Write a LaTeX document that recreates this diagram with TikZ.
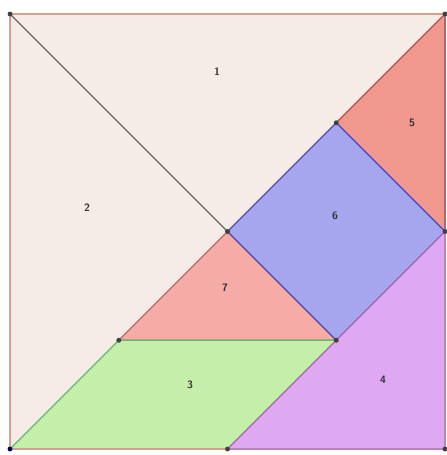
\documentclass[tikz,border=0pt]{standalone}
\definecolor{paper}{RGB}{246,236,231}
\definecolor{rim}{RGB}{214,160,142}
\definecolor{coral}{RGB}{241,152,142}
\definecolor{rose}{RGB}{245,172,166}
\definecolor{lilac}{RGB}{166,166,238}
\definecolor{lime}{RGB}{196,238,170}
\definecolor{orchid}{RGB}{222,168,242}
\usepackage{tikz}
\usetikzlibrary{calc}
\tikzset{
  piece/.style={line width=0.8pt, line join=round},
  lab/.style={font=\scriptsize\sffamily\bfseries, text=black!80, inner sep=1pt},
  pin/.style={fill=black!75},
}
\begin{document}
\begin{tikzpicture}[x=2.5cm,y=2.5cm]
        \useasboundingbox (-0.092,-0.055) rectangle (4.018,4.129);
        \coordinate (tl) at (0,4); \coordinate (tr) at (4,4);
        \coordinate (bl) at (0,0); \coordinate (br) at (4,0);
        \coordinate (c) at (2,2); \coordinate (q) at (3,3);
        \coordinate (r) at (4,2); \coordinate (s) at (3,1);
        \coordinate (p) at (1,1); \coordinate (m) at (2,0);
        % big triangles 1 and 2
        \fill[paper] (tl) -- (tr) -- (c) -- cycle;
        \fill[paper] (tl) -- (bl) -- (c) -- cycle;
        \draw[piece,black!60] (tl) -- (c);
        % small triangles 5 and 7
        \draw[piece,fill=coral,draw=red!60!black!70] (tr) -- (r) -- (q) -- cycle;
        \draw[piece,fill=rose,draw=red!55!black!60] (c) -- (s) -- (p) -- cycle;
        % square 6
        \draw[piece,fill=lilac,draw=blue!60!black!70] (c) -- (q) -- (r) -- (s) -- cycle;
        % parallelogram 3
        \draw[piece,fill=lime,draw=green!55!black!60] (bl) -- (p) -- (s) -- (m) -- cycle;
        % triangle 4
        \draw[piece,fill=orchid,draw=violet!60] (m) -- (br) -- (r) -- cycle;
        % outer square
        \draw[piece,rim] (tl) -- (tr) (tl) -- (bl) -- (m);
        \draw[piece,violet!50] (m) -- (br) -- (r);
        \draw[piece,red!50!black!60] (r) -- (tr);
        \foreach \v in {tl,tr,c,q,r,s,p,m,br} \fill[pin] (\v) circle (1.6pt);
        \fill[blue!40!black] (bl) circle (1.6pt);
        \node[lab] (n1) at (1.903,3.467) {1};
        \node[lab] (n2) at (0.708,2.216) {2};
        \node[lab] (n3) at (1.655,0.589) {3};
        \node[lab] (n4) at (3.430,0.634) {4};
        \node[lab] (n5) at (3.697,2.998) {5};
        \node[lab] (n6) at (2.989,2.143) {6};
        \node[lab] (n7) at (1.977,1.480) {7};
\end{tikzpicture}
\end{document}
